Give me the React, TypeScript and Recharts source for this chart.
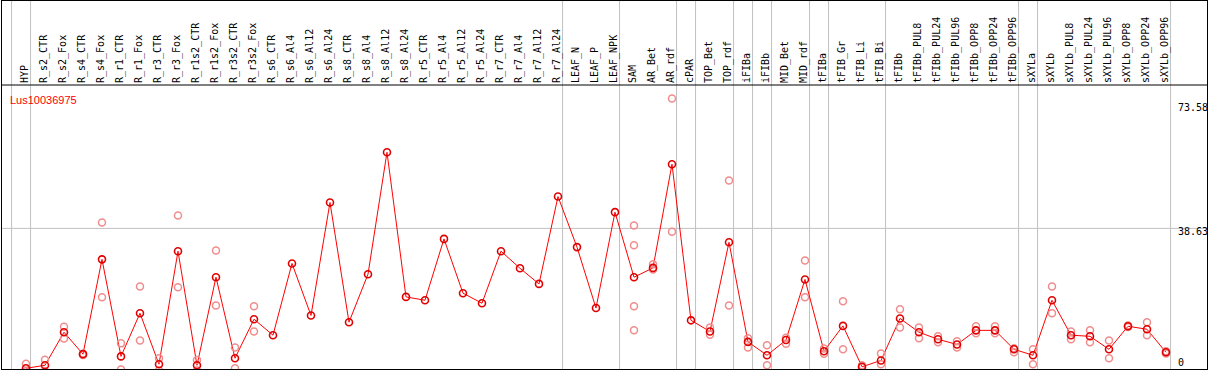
import { ComposedChart, Legend, Line, ReferenceLine, Scatter, XAxis, YAxis } from "recharts";

const SERIES_NAME = "Lus10036975";

const CATEGORIES = [
  "HYP",
  "R_s2_CTR", "R_s2_Fox", "R_s4_CTR", "R_s4_Fox", "R_r1_CTR", "R_r1_Fox", "R_r3_CTR", "R_r3_Fox",
  "R_r1s2_CTR", "R_r1s2_Fox", "R_r3s2_CTR", "R_r3s2_Fox", "R_s6_CTR", "R_s6_Al4", "R_s6_Al12", "R_s6_Al24",
  "R_s8_CTR", "R_s8_Al4", "R_s8_Al12", "R_s8_Al24", "R_r5_CTR", "R_r5_Al4", "R_r5_Al12", "R_r5_Al24",
  "R_r7_CTR", "R_r7_Al4", "R_r7_Al12", "R_r7_Al24",
  "LEAF_N", "LEAF_P", "LEAF_NPK",
  "SAM", "AR_Bet", "AR_rdf",
  "cPAR",
  "TOP_Bet", "TOP_rdf",
  "iFIBa",
  "iFIBb",
  "MID_Bet", "MID_rdf",
  "tFIBa",
  "tFIB_Gr", "tFIB_Li", "tFIB_Bi",
  "tFIBb", "tFIBb_PUL8", "tFIBb_PUL24", "tFIBb_PUL96", "tFIBb_OPP8", "tFIBb_OPP24", "tFIBb_OPP96",
  "sXYLa",
  "sXYLb", "sXYLb_PUL8", "sXYLb_PUL24", "sXYLb_PUL96", "sXYLb_OPP8", "sXYLb_OPP24", "sXYLb_OPP96",
];

// how many categories sit between two grey separators
const GROUP_SIZES = [1, 28, 3, 3, 1, 2, 1, 1, 2, 1, 3, 7, 1, 7];

const MEANS = [
  1.0,
  1.8, 10.7, 4.8, 30.3, 4.2, 15.8, 2.1, 32.5,
  1.8, 25.5, 3.7, 14.2, 9.9, 29.2, 15.2, 45.6,
  13.4, 26.3, 59.1, 20.2, 19.3, 35.8, 21.2, 18.5,
  32.5, 27.9, 23.7, 47.2,
  33.6, 17.2, 43.0,
  25.5, 28.0, 55.9,
  13.9,
  10.9, 34.9,
  8.1,
  4.5,
  8.6, 24.9,
  5.6,
  12.4, 1.4, 3.1,
  14.4, 10.7, 8.8, 7.4, 11.2, 11.2, 6.1,
  4.5,
  19.3, 9.9, 9.6, 6.1, 12.3, 11.5, 5.3,
];

const REPLICATES: number[][] = [
  [2.2, 0.2],
  [3.3, 0.3], [12.2, 9.0], [4.9, 4.6], [40.2, 20.1], [7.7, 0.7], [23.0, 8.5], [3.7, 0.5], [42.1, 22.8],
  [3.2, 0.4], [32.7, 17.9], [6.6, 1.0], [17.7, 10.9], [], [], [], [],
  [], [], [], [], [], [], [], [],
  [], [], [], [],
  [], [], [],
  [39.4, 34.1, 17.7, 11.2], [29.0, 27.6], [73.58, 37.7],
  [],
  [12.0, 10.0], [51.5, 17.9],
  [9.1, 6.6],
  [7.2, 1.8],
  [9.2, 7.6], [30.0, 20.1],
  [6.3, 4.9],
  [19.0, 6.1], [1.8, 1.2], [5.0, 2.1],
  [16.9, 12.0], [12.0, 9.1], [9.6, 8.0], [8.3, 6.6], [12.3, 10.4], [12.3, 10.4], [6.4, 5.3],
  [6.1, 2.1],
  [23.0, 15.8], [10.9, 8.8], [11.2, 8.0], [8.5, 3.7], [12.5, 12.1], [13.4, 9.9], [5.6, 5.0],
];

const Y_TICKS = [0, 38.63, 73.58];
const Y_DOMAIN = [0, 77.2];
const HEADER_TOP = 100.1; // value at the very top edge, so separators run through the header
const X_DOMAIN = [-1.263, 62.158];
const SEPARATOR_SHIFT = 0.24;
const Y_LABEL_DY = [-6, 7, 13];

const meanData = MEANS.map((y, x) => ({ x, y }));
const replicateData = REPLICATES.flatMap((vals, x) => vals.map((y) => ({ x, y })));
const separators = GROUP_SIZES.reduce<number[]>(
  (acc, n) => [...acc, acc[acc.length - 1] + n],
  [-1],
).map((i) => i + SEPARATOR_SHIFT);

function CategoryTick({ x, y, payload }: any) {
  const tx = x + 2;
  return (
    <text
      x={tx}
      y={y}
      transform={`rotate(-90, ${tx}, ${y})`}
      textAnchor="start"
      fontFamily="'DejaVu Sans Mono', monospace"
      fontSize={10}
      fill="#000"
    >
      {CATEGORIES[payload.value]}
    </text>
  );
}

// value labels sit inside the plot, left-aligned just past the last separator
function valueLabel(i: number) {
  return ({ viewBox }: any) => (
    <text
      x={viewBox.x + viewBox.width - 29}
      y={viewBox.y + Y_LABEL_DY[i]}
      textAnchor="start"
      fontFamily="'DejaVu Sans Mono', monospace"
      fontSize={10}
      fill="#000"
    >
      {Y_TICKS[i]}
    </text>
  );
}

export default function App() {
  return (
    <div style={{ position: "absolute", left: 0, top: 0, width: 1209, height: 370, overflow: "hidden", background: "#fff" }}>
      <ComposedChart width={1209} height={372} margin={{ top: 0, right: 2, bottom: 0, left: 2 }}>
        <XAxis
          dataKey="x"
          type="number"
          orientation="top"
          height={85}
          domain={X_DOMAIN}
          ticks={CATEGORIES.map((_, i) => i)}
          interval={0}
          tickSize={0}
          tickMargin={2}
          tickLine={false}
          axisLine={{ stroke: "#000" }}
          tick={<CategoryTick />}
        />
        <YAxis dataKey="y" type="number" domain={Y_DOMAIN} ticks={Y_TICKS} hide />
        <Legend
          layout="horizontal"
          verticalAlign="middle"
          align="center"
          wrapperStyle={{ left: 10, top: 90, width: "auto", height: "auto" }}
          content={() => (
            <span style={{ color: "#ff0000", fontFamily: "'Liberation Sans', Arial, sans-serif", fontSize: 11 }}>
              {SERIES_NAME}
            </span>
          )}
        />
        {Y_TICKS.map((v, i) => (
          <ReferenceLine
            key={v}
            y={v}
            stroke={v === 38.63 ? "#c0c0c0" : "none"}
            strokeWidth={1}
            ifOverflow="visible"
            label={valueLabel(i)}
          />
        ))}
        {separators.map((b) => (
          <ReferenceLine
            key={b}
            segment={[{ x: b, y: 0 }, { x: b, y: HEADER_TOP }]}
            stroke="#c0c0c0"
            strokeWidth={1}
            ifOverflow="visible"
          />
        ))}
        <Scatter
          data={replicateData}
          dataKey="y"
          isAnimationActive={false}
          shape={(p: any) => <circle cx={p.cx} cy={p.cy} r={3.5} fill="none" stroke="#f08c8c" strokeWidth={1.5} />}
        />
        <Line
          data={meanData}
          dataKey="y"
          type="linear"
          stroke="#ff0000"
          strokeWidth={1}
          dot={{ r: 3.5, fill: "none", stroke: "#e00000", strokeWidth: 1.6 }}
          activeDot={false}
          isAnimationActive={false}
        />
      </ComposedChart>
      <div
        style={{
          position: "absolute",
          left: 1,
          top: 0,
          width: 1207,
          height: 370,
          border: "1px solid #000",
          boxSizing: "border-box",
          pointerEvents: "none",
        }}
      />
    </div>
  );
}
